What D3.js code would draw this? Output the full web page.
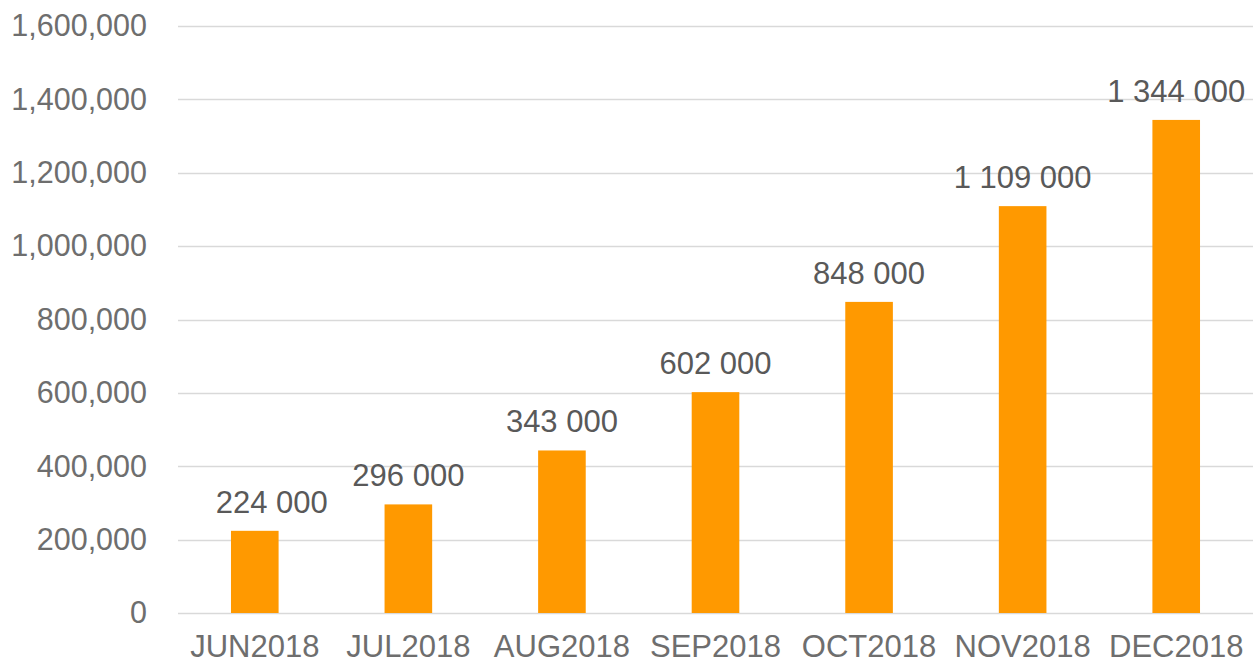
<!DOCTYPE html>
<html>
<head>
<meta charset="utf-8">
<script src="https://cdn.jsdelivr.net/npm/d3@7"></script>
<style>
  body { margin: 0; background: #fff; }
  text { font-family: "Liberation Sans", Arial, sans-serif; }
</style>
</head>
<body>
<div id="chart"></div>
<script>
// data
var months = ["JUN2018", "JUL2018", "AUG2018", "SEP2018", "OCT2018", "NOV2018", "DEC2018"];
var values = [224000, 296000, 443000, 602000, 848000, 1109000, 1344000];
var labels = ["224 000", "296 000", "343 000", "602 000", "848 000", "1 109 000", "1 344 000"];
var yTicks = [0, 200000, 400000, 600000, 800000, 1000000, 1200000, 1400000, 1600000];

var W = 1253, H = 665;
var margin = {top: 26, right: 0, bottom: 52, left: 178};
var width = W - margin.left - margin.right,
    height = H - margin.top - margin.bottom;

var svg = d3.select("#chart")
  .append("svg")
  .attr("width", W)
  .attr("height", H)
  .append("g")
  .attr("transform", "translate(" + margin.left + "," + margin.top + ")");

var x = d3.scaleBand()
  .domain(months)
  .range([0, width])
  .paddingInner(0.69)
  .paddingOuter(0.345);

var y = d3.scaleLinear()
  .domain([0, 1600000])
  .range([height, 0]);

// gridlines
svg.append("g")
  .selectAll("line")
  .data(yTicks)
  .enter()
  .append("line")
  .attr("x1", 0)
  .attr("x2", width)
  .attr("y1", function(d) { return Math.round(y(d)) + 0.5; })
  .attr("y2", function(d) { return Math.round(y(d)) + 0.5; })
  .attr("stroke", "#d9d9d9")
  .attr("stroke-width", 1.5);

// Y axis
var yAxis = svg.append("g")
  .call(d3.axisLeft(y).tickValues(yTicks).tickSize(0).tickPadding(31)
    .tickFormat(d3.format(",")));
yAxis.select(".domain").remove();
yAxis.selectAll("text").style("font-size", "30.5px").attr("fill", "#6e6e6e");

// bars
svg.selectAll("rect")
  .data(values)
  .enter()
  .append("rect")
  .attr("x", function(d, i) { return x(months[i]); })
  .attr("y", function(d) { return y(d); })
  .attr("width", x.bandwidth())
  .attr("height", function(d) { return height - y(d); })
  .attr("fill", "#ff9900");

// value labels (first one sits a bit to the right in the original)
svg.selectAll(".lbl")
  .data(values)
  .enter()
  .append("text")
  .attr("class", "lbl")
  .attr("x", function(d, i) { return x(months[i]) + x.bandwidth() / 2; })
  .attr("dx", function(d, i) { return i === 0 ? 17 : 0; })
  .attr("y", function(d) { return y(d) - 18; })
  .attr("text-anchor", "middle")
  .attr("fill", "#595959")
  .style("font-size", "31px")
  .text(function(d, i) { return labels[i]; });

// X axis
var xAxis = svg.append("g")
  .attr("transform", "translate(0," + height + ")")
  .call(d3.axisBottom(x).tickSize(0).tickPadding(22));
xAxis.select(".domain").remove();
xAxis.selectAll("text").style("font-size", "31px").attr("fill", "#6e6e6e");
</script>
</body>
</html>
